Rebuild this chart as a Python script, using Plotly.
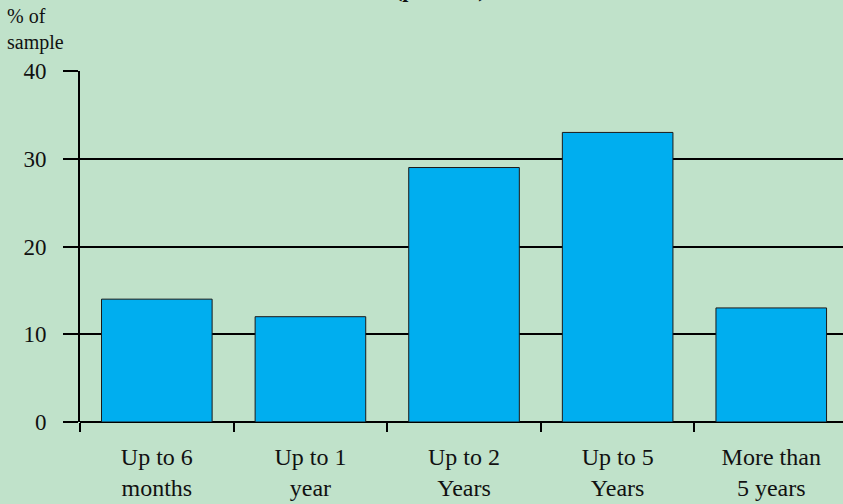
import plotly.graph_objects as go

# ── Data ──
categories = ['Up to 6<br>months', 'Up to 1<br>year', 'Up to 2<br>Years',
              'Up to 5<br>Years', 'More than<br>5 years']
pct_sample = [14, 12, 29, 33, 13]
y_ticks = [0, 10, 20, 30, 40]

BG = '#c0e2ca'
BAR = '#00aeef'
FONT = 'Liberation Serif'

fig = go.Figure()
fig.add_trace(go.Bar(
  x=categories,
  y=pct_sample,
  width=0.72,
  marker=dict(color=BAR, line=dict(color='#1a1a1a', width=1)),
  hoverinfo='skip',
))

fig.update_layout(
  width=843, height=504,
  paper_bgcolor=BG, plot_bgcolor=BG,
  margin=dict(l=80, r=0, t=71, b=82),
  showlegend=False,
  font=dict(family=FONT, color='#111111'),
  xaxis=dict(
    range=[-0.5, 4.467],
    showgrid=False,
    showline=False,
    ticks='outside', tickson='boundaries', ticklen=9, tickwidth=2, tickcolor='black',
    tickfont=dict(family=FONT, size=24),
    ticklabelstandoff=18,
    fixedrange=True,
  ),
  yaxis=dict(
    range=[0, 40],
    tickvals=y_ticks,
    showgrid=True, gridcolor='black', gridwidth=2,
    zeroline=True, zerolinecolor='black', zerolinewidth=2,
    showline=True, linecolor='black', linewidth=2,
    ticks='outside', ticklen=15, tickwidth=2, tickcolor='black',
    tickfont=dict(family=FONT, size=23),
    ticklabelstandoff=12,
    fixedrange=True,
  ),
  annotations=[
    dict(text='% of<br>sample', xref='paper', yref='paper', x=0, y=1,
         xanchor='left', yanchor='bottom', xshift=-75, yshift=15,
         align='left', showarrow=False, font=dict(family=FONT, size=20)),
    # title, almost entirely cut off by the top edge in the source
    dict(text='<b>(per cent)</b>', xref='paper', yref='paper', x=0.473, y=1,
         xanchor='center', yanchor='bottom', yshift=67,
         showarrow=False, font=dict(family=FONT, size=22)),
  ],
)

# drop the default 8px body margin so the figure sits flush in the window
fig.write_html('out.html', config={'displayModeBar': False},
               post_script="document.body.style.margin='0';")
